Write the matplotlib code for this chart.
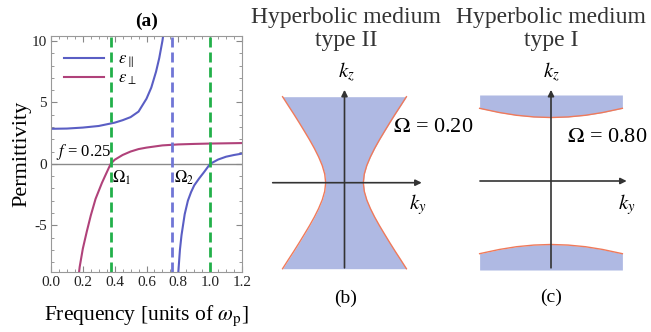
import numpy as np
from matplotlib import pyplot as plt

plt.rcParams['font.family'] = ['Liberation Serif', 'DejaVu Serif']
plt.rcParams['mathtext.fontset'] = 'stix'
plt.rcParams['axes.unicode_minus'] = False

W, H = 651, 332

# panel (a): permittivity vs frequency
w_par1 = [0.0, 0.1, 0.2, 0.3, 0.4, 0.45, 0.5, 0.55, 0.6, 0.63, 0.66, 0.68, 0.70, 0.71]
e_par1 = [2.85, 2.87, 2.95, 3.08, 3.35, 3.55, 3.8, 4.25, 5.3, 6.2, 7.5, 8.6, 10.0, 10.9]
w_par2 = [0.795, 0.80, 0.81, 0.82, 0.84, 0.86, 0.88, 0.90, 0.93, 0.96, 1.0, 1.05, 1.1, 1.15, 1.2]
e_par2 = [-9.6, -8.8, -7.0, -5.8, -4.1, -3.0, -2.3, -1.75, -1.2, -0.7, 0.0, 0.35, 0.58, 0.72, 0.83]
w_perp = [0.172, 0.18, 0.2, 0.225, 0.25, 0.28, 0.32, 0.35, 0.375, 0.4, 0.45, 0.5, 0.55,
          0.6, 0.7, 0.8, 0.9, 1.0, 1.1, 1.2]
e_perp = [-9.3, -8.4, -6.9, -5.5, -4.2, -2.85, -1.55, -0.7, 0.0, 0.33, 0.72, 1.0, 1.2,
          1.32, 1.5, 1.58, 1.62, 1.65, 1.67, 1.69]
omega1 = 0.375
omega2 = 0.76
omega_p = 1.0
fill_f = 0.25

# panel (b): hyperbolic contour type II (right branch, mirrored on the left)
kz_b = [-1.0, -0.9, -0.8, -0.7, -0.6, -0.5, -0.4, -0.3, -0.2, -0.1, 0.0,
        0.1, 0.2, 0.3, 0.4, 0.5, 0.6, 0.7, 0.8, 0.9, 1.0]
ky_b = [0.72, 0.656, 0.591, 0.528, 0.467, 0.407, 0.351, 0.301, 0.259, 0.230, 0.219,
        0.230, 0.259, 0.301, 0.351, 0.407, 0.467, 0.528, 0.591, 0.656, 0.72]

# panel (c): hyperbolic contour type I (upper branch, mirrored below)
ky_c = [-0.83, -0.6, -0.4, -0.2, 0.0, 0.2, 0.4, 0.6, 0.83]
kz_c = [0.845, 0.796, 0.764, 0.745, 0.738, 0.745, 0.764, 0.796, 0.845]


def rect(x0, y0, x1, y1):
    # pixel box (top-left origin) -> figure fraction
    return [x0 / W, 1 - y1 / H, (x1 - x0) / W, (y1 - y0) / H]


fig = plt.figure(figsize=(W / 100, H / 100), dpi=100)

# ---------------- (a)
ax = fig.add_axes(rect(51, 36, 242, 272))
blue = '#5a5ec4'
purple = '#b0427a'
ax.axhline(0, color='#8a8a8a', lw=1.0, zorder=1)
ax.plot(w_par1, e_par1, color=blue, lw=1.5, label=r'$\varepsilon_{\parallel}$')
ax.plot(w_par2, e_par2, color=blue, lw=1.5)
ax.plot(w_perp, e_perp, color=purple, lw=1.5, label=r'$\varepsilon_{\perp}$')
ax.axvline(omega1, color='#22b04a', lw=2, dashes=(3.6, 1.8))
ax.axvline(omega_p, color='#22b04a', lw=2, dashes=(3.6, 1.8))
ax.axvline(omega2, color='#7076d6', lw=2, dashes=(3.6, 1.8))
ax.set_xlim(0, 1.2)
ax.set_ylim(-8.8, 10.4)
ax.set_xticks(np.arange(0, 1.21, 0.2))
ax.set_xticklabels(['0.0', '0.2', '0.4', '0.6', '0.8', '1.0', '1.2'])
ax.set_yticks([-5, 0, 5, 10])
ax.set_xticks(np.arange(0, 1.21, 0.05), minor=True)
ax.set_yticks(np.arange(-8, 11, 1), minor=True)
ax.tick_params(which='both', direction='in', top=True, right=True, colors='#888888',
               labelcolor='#222222', labelsize=11, pad=3)
ax.tick_params(which='major', length=4)
ax.tick_params(which='minor', length=2)
for s in ax.spines.values():
    s.set_color('#999999')
ax.set_xlabel(r'Frequency [units of $\omega_{\rm p}$]', fontsize=15.5, labelpad=10)
ax.set_ylabel('Permittivity', fontsize=16, labelpad=0)
ax.set_title('(a)', fontsize=14, fontweight='bold', pad=7)
ax.legend(loc='upper left', bbox_to_anchor=(0.0, 0.99), frameon=False, fontsize=12,
          handlelength=2.4, labelspacing=0.05, borderpad=0.3)
ax.text(0.03, 0.15, r'$f$ = 0.25', fontsize=12, ha='left', va='bottom')
ax.text(omega1 + 0.01, -0.35, r'$\Omega_1$', fontsize=12, ha='left', va='top')
ax.text(omega2 + 0.01, -0.35, r'$\Omega_2$', fontsize=12, ha='left', va='top')

fill_col = '#afb9e3'
edge_col = '#f07a5a'
arrow = dict(arrowstyle='-|>', color='#333333', lw=1.2, mutation_scale=9, shrinkA=0, shrinkB=0)
scale = 86.0

# ---------------- (b)
cx, cy = 344.5, 182.7
x0, x1, y0, y1 = 255, 440, 85, 285
axb = fig.add_axes(rect(x0, y0, x1, y1))
axb.set_xlim((x0 - cx) / scale, (x1 - cx) / scale)
axb.set_ylim((cy - y1) / scale, (cy - y0) / scale)
axb.axis('off')
ky_b = np.array(ky_b)
axb.fill_betweenx(kz_b, -ky_b, ky_b, color=fill_col, lw=0)
axb.plot(ky_b, kz_b, color=edge_col, lw=1)
axb.plot(-ky_b, kz_b, color=edge_col, lw=1)
axb.annotate('', xy=(0.898, 0), xytext=(-0.835, 0), arrowprops=arrow)
axb.annotate('', xy=(0, 1.08), xytext=(0, -0.99), arrowprops=arrow)

# ---------------- (c)
cx, cy = 551.0, 181.0
x0, x1, y0, y1 = 470, 651, 85, 285
axc = fig.add_axes(rect(x0, y0, x1, y1))
axc.set_xlim((x0 - cx) / scale, (x1 - cx) / scale)
axc.set_ylim((cy - y1) / scale, (cy - y0) / scale)
axc.axis('off')
kz_c = np.array(kz_c)
axc.fill_between(ky_c, kz_c, 1.0, color=fill_col, lw=0)
axc.fill_between(ky_c, -1.035, -kz_c, color=fill_col, lw=0)
axc.plot(ky_c, kz_c, color=edge_col, lw=1)
axc.plot(ky_c, -kz_c, color=edge_col, lw=1)
axc.annotate('', xy=(0.88, 0), xytext=(-0.826, 0), arrowprops=arrow)
axc.annotate('', xy=(0, 1.06), xytext=(0, -1.01), arrowprops=arrow)

# texts of (b) and (c), placed in pixels
def ftext(x, y, s, **kw):
    fig.text(x / W, 1 - y / H, s, **kw)

ftext(346, 29, 'Hyperbolic medium\ntype II', fontsize=17, ha='center', va='center',
      linespacing=1.12, color='#333333')
ftext(551, 29, 'Hyperbolic medium\ntype I', fontsize=17, ha='center', va='center',
      linespacing=1.12, color='#333333')
ftext(346, 72, r'$k_z$', fontsize=15, ha='center', va='center')
ftext(551, 72, r'$k_z$', fontsize=15, ha='center', va='center')
ftext(418, 205, r'$k_y$', fontsize=15, ha='center', va='center')
ftext(627, 205, r'$k_y$', fontsize=15, ha='center', va='center')
ftext(393, 128, r'$\Omega$ = 0.20', fontsize=16, ha='left', va='center')
ftext(567, 137, r'$\Omega$ = 0.80', fontsize=16, ha='left', va='center')
ftext(346, 298, '(b)', fontsize=14, ha='center', va='center')
ftext(551, 297, '(c)', fontsize=14, ha='center', va='center')

fig.savefig('out.png', dpi=100)
